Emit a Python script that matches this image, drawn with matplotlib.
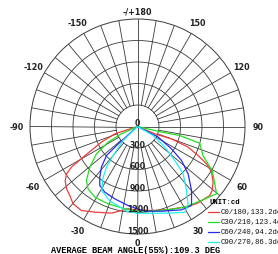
import numpy as np
import matplotlib
matplotlib.use("Agg")
import matplotlib.pyplot as plt
from matplotlib.lines import Line2D

# candela curves, angle (deg from nadir, + to the right) and intensity (cd)
c0_ang = [-85, -72, -66.6, -61, -58.4, -56.3, -53, -48.7, -44.5, -39.8, -33.7, -26.5,
          -16.7, -6.5, 0, 10, 19.2, 30, 37.4, 46.3, 49.4, 53.7, 58.4, 61.6, 64.4,
          67.8, 70, 67, 85]
c0_cd = [0, 333, 547, 840, 1081, 1190, 1264, 1317, 1349, 1404, 1409, 1335,
         1262, 1155, 1165, 1190, 1231, 1300, 1357, 1395, 1372, 1309, 1213, 1094, 938,
         762, 505, 262, 0]

c30_ang = [-85, -65.5, -62, -56.3, -49.6, -43.4, -38.4, -31, -20.8, -8.8, 0, 9.4, 20.2,
           30.4, 40.9, 49.6, 53.4, 59.3, 66, 74.9, 78, 77, 85]
c30_cd = [0, 246, 465, 688, 874, 1037, 1110, 1152, 1154, 1162, 1180, 1197, 1238,
          1305, 1365, 1448, 1343, 1215, 1000, 900, 600, 344, 0]

c60_ang = [-80, -48, -46.9, -41.6, -36.7, -32.6, -26.5, -17.4, -6.8, 0, 5, 15.8, 27.8,
           34.4, 40.2, 46.9, 52.3, 56.7, 62.8, 80]
c60_cd = [0, 363, 592, 758, 881, 977, 1023, 1058, 1111, 1150, 1186, 1228, 1315,
          1335, 1168, 967, 776, 568, 324, 0]

c90_ang = [-80, -45.8, -40, -37.4, -33.6, -29, -20.4, -7.4, 0, 9.2, 19.5, 28.9, 33.2,
           37.4, 44, 47.6, 53, 60, 80]
c90_cd = [0, 280, 529, 712, 876, 1026, 1107, 1190, 1210, 1227, 1282, 1367, 1289,
          1125, 917, 705, 477, 251, 0]

series = [
    (c0_ang, c0_cd, "#f03a3a", "C0/180,133.2deg"),
    (c30_ang, c30_cd, "#1ee01e", "C30/210,123.4deg"),
    (c60_ang, c60_cd, "#2a2af0", "C60/240,94.2deg"),
    (c90_ang, c90_cd, "#22f0f0", "C90/270,86.3deg"),
]

rings = [300, 600, 900, 1200, 1500]
angle_labels = [0, 30, 60, 90, 120, 150, 180, -150, -120, -90, -60, -30]

W, H = 278, 255
fig = plt.figure(figsize=(W / 100, H / 100), dpi=100)
fig.patch.set_facecolor("white")
ax = fig.add_axes([30 / W, 20 / H, 215 / W, 215 / H], projection="polar")
ax.set_theta_zero_location("S")
ax.set_theta_direction(1)
ax.set_ylim(0, 1500)
ax.set_xticks([])
ax.set_yticks([])
ax.grid(False)
ax.spines["polar"].set_color("#3a3a3a")
ax.spines["polar"].set_linewidth(0.7)

gc = "#3a3a3a"
full = np.linspace(0, 2 * np.pi, 361)
for r in rings[:-1]:
    ax.plot(full, np.full_like(full, r), color=gc, lw=0.6)
for a in range(0, 360, 10):
    r0 = 0 if a % 90 == 0 else 300
    ax.plot([np.radians(a)] * 2, [r0, 1500], color=gc, lw=0.6)

for ang, cd, col, lab in series:
    ax.plot(np.radians(ang), cd, color=col, lw=0.9)

lab_font = dict(family="DejaVu Sans", weight="bold", size=5.8, color="#222222")
for a in angle_labels:
    txt = "-/+180" if a == 180 else str(a)
    rr = 1612 if a in (0, 180) else 1680
    ax.text(np.radians(a), rr, txt, ha="center", va="center", clip_on=False, **lab_font)

for r in rings:
    ax.text(0, r - 55, str(r), ha="center", va="center", fontsize=5.6,
            family="DejaVu Sans", weight="bold", color="#222222")
ax.text(np.pi, 50, "0", ha="center", va="center", fontsize=5.6,
        family="DejaVu Sans", weight="bold", color="#222222")

# legend
mono = dict(family="Liberation Mono", size=5.3, color="#111111")
fig.text(209 / W, 1 - 203 / H, "UNIT:cd", ha="left", va="center",
         family="Liberation Mono", weight="bold", size=5.2)
for i, (ang, cd, col, lab) in enumerate(series):
    y = 1 - (212.5 + 10 * i) / H
    fig.add_artist(Line2D([208 / W, 219 / W], [y, y], color=col, lw=0.9,
                          transform=fig.transFigure))
    fig.text(221 / W, y, lab, ha="left", va="center", **mono)

fig.text(136 / W, 1 - 251 / H, "AVERAGE BEAM ANGLE(55%):109.3 DEG", ha="center",
         va="center", family="Liberation Mono", weight="bold", size=6.2)

fig.savefig("out.png", dpi=100)
